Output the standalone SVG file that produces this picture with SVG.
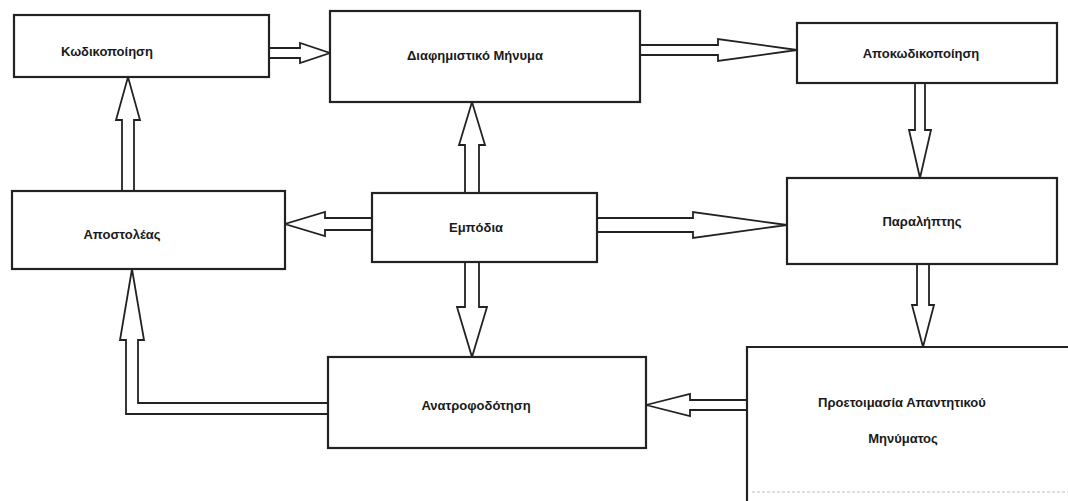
<svg xmlns="http://www.w3.org/2000/svg" width="1068" height="501" viewBox="0 0 1068 501">
<style>
.box{fill:#fff;stroke:#222;stroke-width:2.2}
.lbl{font-family:"Liberation Sans",Arial,sans-serif;font-size:13px;font-weight:bold;fill:#1a1a1a;text-anchor:middle}
.arr{fill:#fff;stroke:#222;stroke-width:1.8;stroke-linejoin:miter}
</style>
<rect width="1068" height="501" fill="#fff"/>
<g id="connectors">
<path class="arr" d="M269,48 L300,48 L300,43 L330,53 L300,63 L300,58 L269,58 Z"/>
<path class="arr" d="M640,45 L718,45 L718,39 L797,50 L718,61 L718,55 L640,55 Z"/>
<path class="arr" d="M915,83 L915,130 L909,130 L920,178 L931,130 L925,130 L925,83 Z"/>
<path class="arr" d="M122,191 L122,120 L116,120 L128,77 L140,120 L134,120 L134,191 Z"/>
<path class="arr" d="M465,193 L465,145 L459,145 L472,102 L485,145 L479,145 L479,193 Z"/>
<path class="arr" d="M372,218 L325,218 L325,212 L285,224 L325,236 L325,230 L372,230 Z"/>
<path class="arr" d="M597,218 L693,218 L693,212 L787,225 L693,238 L693,232 L597,232 Z"/>
<path class="arr" d="M465,262 L465,307 L457,307 L472,357 L487,307 L479,307 L479,262 Z"/>
<path class="arr" d="M917,264 L917,305 L912,305 L923,347 L934,305 L929,305 L929,264 Z"/>
<path class="arr" d="M747,400 L690,400 L690,394 L646,405 L690,416 L690,410 L747,410 Z"/>
<path class="arr" d="M328,403 L138,403 L138,340 L144,340 L132,269 L120,340 L126,340 L126,414 L328,414 Z"/>
</g>
<g id="n1"><rect class="box" x="14" y="15" width="255" height="62"/><text class="lbl" x="107" y="56">Κωδικοποίηση</text></g>
<g id="n2"><rect class="box" x="330" y="11" width="310" height="91"/><text class="lbl" x="475" y="60">Διαφημιστικό Μήνυμα</text></g>
<g id="n3"><rect class="box" x="797" y="23" width="260" height="60"/><text class="lbl" x="921" y="58">Αποκωδικοποίηση</text></g>
<g id="n4"><rect class="box" x="12" y="191" width="273" height="78"/><text class="lbl" x="122" y="239">Αποστολέας</text></g>
<g id="n5"><rect class="box" x="372" y="193" width="225" height="69"/><text class="lbl" x="476" y="232">Εμπόδια</text></g>
<g id="n6"><rect class="box" x="787" y="178" width="270" height="86"/><text class="lbl" x="922" y="226">Παραλήπτης</text></g>
<g id="n7"><rect class="box" x="328" y="357" width="318" height="91"/><text class="lbl" x="476" y="410">Ανατροφοδότηση</text></g>
<g id="n8"><rect x="747" y="347" width="330" height="160" fill="#fff"/><path d="M1070,347 H747 V501" fill="none" stroke="#222" stroke-width="2.2"/><line x1="752" y1="492" x2="1068" y2="492" stroke="#bbb" stroke-width="1" stroke-dasharray="3 2"/><text class="lbl" x="902" y="407">Προετοιμασία Απαντητικού</text><text class="lbl" x="903" y="443">Μηνύματος</text></g>
</svg>
